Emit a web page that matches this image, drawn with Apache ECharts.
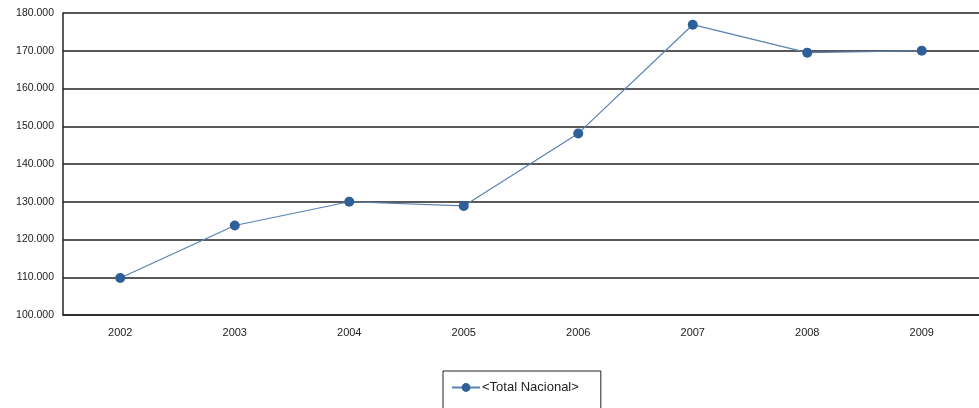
<!DOCTYPE html>
<html>
<head>
<meta charset="utf-8">
<script src="https://cdn.jsdelivr.net/npm/echarts@6/dist/echarts.min.js"></script>
<style>
  html, body { margin: 0; padding: 0; background: #fff; }
  #chart { width: 979px; height: 408px; }
</style>
</head>
<body>
<div id="chart"></div>
<script>
  var years = ['2002', '2003', '2004', '2005', '2006', '2007', '2008', '2009'];
  var totalNacional = [109800, 123700, 130000, 128900, 148100, 176900, 169500, 170000];
  var seriesName = '<Total Nacional>';

  var myChart = echarts.init(document.getElementById('chart'));

  // 180000 -> "180.000"
  function fmt(v) {
    return Math.floor(v / 1000) + '.' + ('000' + (v % 1000)).slice(-3);
  }

  var option = {
    animation: false,
    grid: {
      left: 63,
      top: 13,
      width: 927,
      height: 302
    },
    xAxis: {
      type: 'category',
      data: years,
      boundaryGap: true,
      axisLine: { lineStyle: { color: '#222', width: 1.5 } },
      axisTick: { show: false },
      axisLabel: { color: '#222', fontFamily: 'Liberation Sans', fontSize: 11, margin: 12 }
    },
    yAxis: {
      type: 'value',
      min: 100000,
      max: 180000,
      interval: 10000,
      axisLine: { show: true, lineStyle: { color: '#222', width: 1.5 } },
      axisTick: { show: false },
      axisLabel: {
        color: '#222', fontFamily: 'Liberation Sans', fontSize: 10.5, margin: 9,
        formatter: fmt
      },
      splitLine: { lineStyle: { color: '#222', width: 1.5 } }
    },
    legend: {
      left: 443,
      top: 371,
      orient: 'horizontal',
      data: [seriesName],
      borderColor: '#222',
      borderWidth: 1,
      padding: [10, 22, 20, 8],
      itemWidth: 28,
      itemHeight: 11,
      itemGap: 0,
      textStyle: { color: '#222', fontFamily: 'Liberation Sans', fontSize: 13, padding: [0, 0, 0, -3] }
    },
    series: [{
      name: seriesName,
      type: 'line',
      data: totalNacional,
      symbol: 'circle',
      symbolSize: 10,
      lineStyle: { color: '#5b80b4', width: 1.2 },
      itemStyle: { color: '#2f5f98' }
    }]
  };
  option && myChart.setOption(option);
</script>
</body>
</html>
